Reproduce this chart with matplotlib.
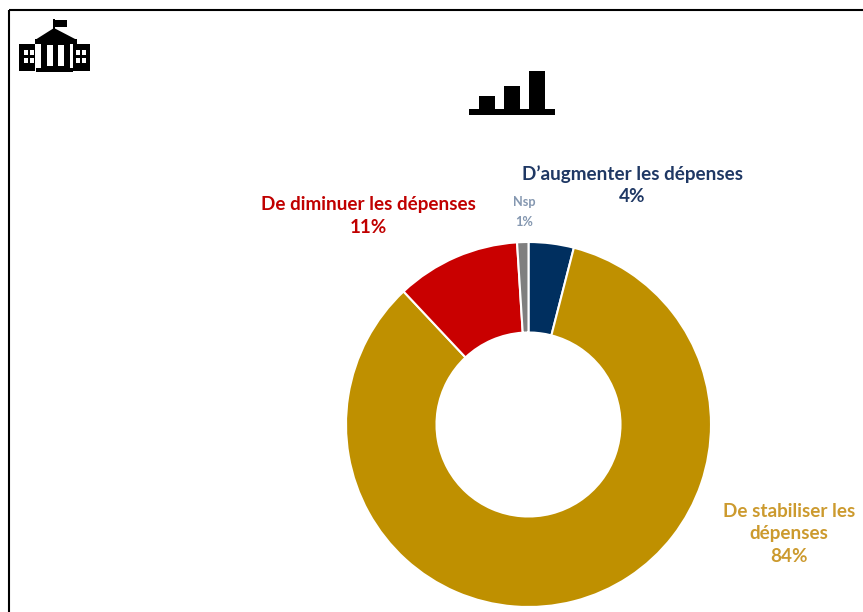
import matplotlib
matplotlib.use('Agg')
import matplotlib.pyplot as plt
from matplotlib.patches import Rectangle, Polygon

plt.rcParams['font.family'] = ['Lato', 'DejaVu Sans']

W, H = 863, 612

# data, clockwise from the top
categories = ["D\u2019augmenter les dépenses", "De stabiliser les\ndépenses", "De diminuer les dépenses", "Nsp"]
values = [4, 84, 11, 1]
colors = ['#002F5F', '#BF9000', '#C90000', '#7F7F7F']
text_colors = ['#1F3864', '#CC9A2E', '#C00000', '#8497B0']
label_pos = [(632, 185), (789, 534), (368, 216), (524, 212)]
label_size = [13.6, 13.6, 13.6, 9.2]
label_spacing = [1.38, 1.38, 1.38, 1.75]

fig = plt.figure(figsize=(W / 100, H / 100), dpi=100)

# overlay in pixel coords for the frame, icons and labels
bg = fig.add_axes([0, 0, 1, 1])
bg.set_xlim(0, W)
bg.set_ylim(H, 0)
bg.axis('off')

# frame
bg.plot([8.5, 8.5], [H, 9.5], color='black', lw=1.5, solid_capstyle='butt')
bg.plot([8.5, W], [9.5, 9.5], color='black', lw=1.5, solid_capstyle='butt')


def rect(x0, y0, x1, y1, c='black'):
    bg.add_patch(Rectangle((x0, y0), x1 - x0, y1 - y0, fc=c, ec='none'))


# building icon
rect(53, 19, 55, 32)
rect(55, 20, 67, 27)
bg.add_patch(Polygon([(35, 40), (54, 28), (77, 40)], fc='black', ec='none'))
rect(35, 39, 77, 44)
rect(19, 44, 35, 71)
rect(73, 44, 90, 71)
rect(41, 41, 70, 68)
rect(36, 68, 73, 72)
for x0 in (47, 58):
    rect(x0, 45, x0 + 6, 66, 'white')
for x0 in (24, 29.5, 76, 81.5):
    for y0 in (50, 58):
        rect(x0, y0, x0 + 4, y0 + 4.5, 'white')

# bars icon
rect(469, 109, 555, 115)
rect(479, 96, 495, 110)
rect(504, 86, 520, 110)
rect(529, 71, 545, 110)

# donut
cx, cy, r_out, r_in = 528.5, 424.5, 182.5, 92
ax = fig.add_axes([(cx - r_out) / W, 1 - (cy + r_out) / H, 2 * r_out / W, 2 * r_out / H])
ax.pie(values, colors=colors, startangle=90, counterclock=False, radius=1,
       wedgeprops=dict(width=1 - r_in / r_out, edgecolor='white', linewidth=1.5))
ax.set_xlim(-1, 1)
ax.set_ylim(-1, 1)
ax.patch.set_alpha(0)

# labels
for cat, val, col, pos, size, sp in zip(categories, values, text_colors, label_pos, label_size, label_spacing):
    bg.text(pos[0], pos[1], f"{cat}\n{val}%", color=col, fontsize=size, fontweight='bold',
            ha='center', va='center', linespacing=sp)

fig.savefig('out.png', dpi=100, facecolor='white')
